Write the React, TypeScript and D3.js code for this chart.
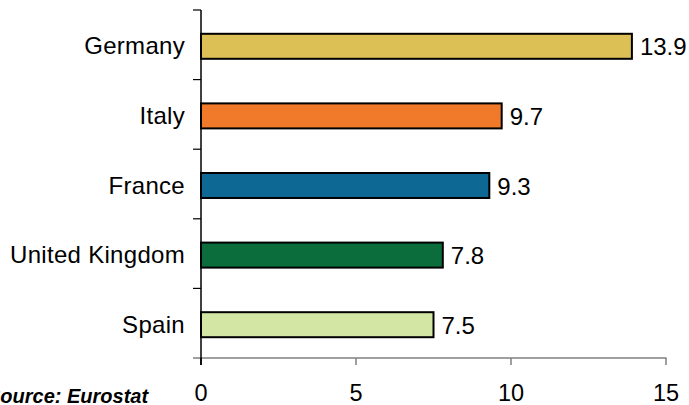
import React from "react";
import * as d3 from "d3";

const categories = ["Germany", "Italy", "France", "United Kingdom", "Spain"];
const values = [13.9, 9.7, 9.3, 7.8, 7.5];
const colors = ["#DCBF55", "#F07A2A", "#0D6893", "#0B6D3B", "#D4E6A3"];
const xTicks = [0, 5, 10, 15];
const sourceText = "Source: Eurostat";

const W = 689;
const H = 405;
const x0 = 201;
const x1 = 666;
const yTop = 10;
const yBottom = 358;

export default function App() {
  const x = d3.scaleLinear().domain([0, 15]).range([x0, x1]);
  const y = d3.scaleBand<string>().domain(categories).range([yTop, yBottom]).paddingInner(0).paddingOuter(0);
  const bw = y.bandwidth();
  const barH = 25;
  const font = "'Liberation Sans', Arial, sans-serif";
  const boundaries = d3.range(categories.length + 1).map((i) => yTop + i * bw);

  return (
    <div style={{ position: "absolute", left: 0, top: 0 }}>
      <svg width={W} height={H} style={{ display: "block" }}>
        <rect width={W} height={H} fill="#fff" />
        {/* horizontal axis */}
        <line x1={193} x2={x1 + 0.5} y1={yBottom} y2={yBottom} stroke="#808080" strokeWidth={1.5} />
        {xTicks.map((t) => (
          <g key={t}>
            <line x1={x(t)} x2={x(t)} y1={yBottom} y2={yBottom + 7} stroke={t === 0 ? "#000" : "#808080"} strokeWidth={1.5} />
            <text x={x(t)} y={401} textAnchor="middle" fontFamily={font} fontSize={23.5} fill="#000">
              {t}
            </text>
          </g>
        ))}
        {/* bars */}
        {categories.map((c, i) => {
          const cy = (y(c) as number) + bw / 2 + 1.5;
          return (
            <g key={c}>
              <rect
                x={x(0)}
                y={cy - barH / 2}
                width={x(values[i]) - x(0)}
                height={barH}
                fill={colors[i]}
                stroke="#000"
                strokeWidth={2}
              />
              <text x={185} y={cy + 8} textAnchor="end" fontFamily={font} fontSize={24} letterSpacing={0.3} fill="#000">
                {c}
              </text>
              <text x={x(values[i]) + 8} y={cy + 9} textAnchor="start" fontFamily={font} fontSize={24} fill="#000">
                {values[i]}
              </text>
            </g>
          );
        })}
        {/* vertical axis */}
        <line x1={x0} x2={x0} y1={yTop} y2={yBottom + 7} stroke="#000" strokeWidth={1.5} />
        {boundaries.slice(0, -1).map((b, i) => (
          <line key={i} x1={193} x2={x0} y1={b} y2={b} stroke="#000" strokeWidth={1.2} />
        ))}
        <text x={-13} y={403} fontFamily={font} fontSize={20} fontWeight="bold" fontStyle="italic" fill="#000">
          {sourceText}
        </text>
      </svg>
    </div>
  );
}
